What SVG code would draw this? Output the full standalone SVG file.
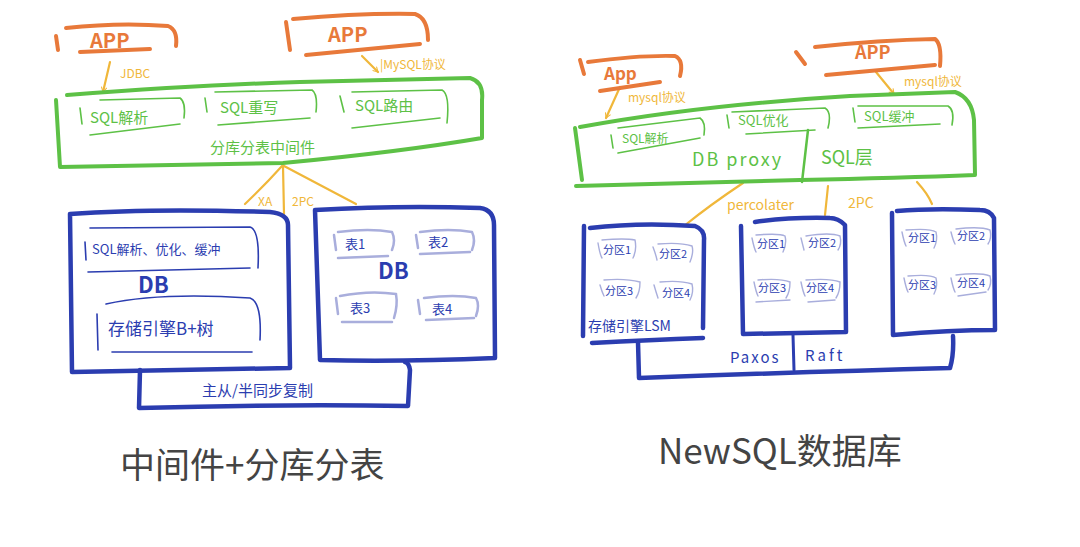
<svg xmlns="http://www.w3.org/2000/svg" width="1080" height="547" viewBox="0 0 1080 547">
<defs>
<style>
.or{fill:none;stroke:#E8793A;stroke-width:4;stroke-linecap:round;stroke-linejoin:round}
.gr{fill:none;stroke:#5DC146;stroke-width:4;stroke-linecap:round;stroke-linejoin:round}
.gr2{fill:none;stroke:#5DC146;stroke-width:1.6;stroke-linecap:round}
.bl{fill:none;stroke:#2B3DB0;stroke-width:4.5;stroke-linecap:round;stroke-linejoin:round}
.bl2{fill:none;stroke:#2B3DB0;stroke-width:1.6;stroke-linecap:round}
.pu{fill:none;stroke:#A9AEDC;stroke-width:2.5;stroke-linecap:round}
.pu2{fill:none;stroke:#A9AEDC;stroke-width:1.4;stroke-linecap:round}
.ye{fill:none;stroke:#F0B73A;stroke-width:2.2;stroke-linecap:round;stroke-linejoin:round}
text{font-family:"Noto Sans CJK SC","Liberation Sans",sans-serif}
.to{fill:#E8793A;font-size:20px;font-weight:bold}
.ty{fill:#F0B73A;font-size:12px}
.tg{fill:#5DC146;font-size:15px}
.tb{fill:#2B3DB0;font-size:15px}
.tbs{fill:#2B3DB0;font-size:11px}
.tdb{fill:#2B3DB0;font-size:22px;font-weight:bold}
.cap{fill:#444;font-size:35px}
</style>
<marker id="ah" viewBox="0 0 10 10" refX="8" refY="5" markerWidth="7" markerHeight="7" orient="auto" markerUnits="userSpaceOnUse">
<path d="M1,1 L8,5 L1,9" fill="none" stroke="#F0B73A" stroke-width="1.5"/>
</marker>
</defs>
<rect width="1080" height="547" fill="#fff"/>

<g id="connectors">
<path class="ye" d="M110,62 L103,92" marker-end="url(#ah)"/>
<path class="ye" d="M362,56 L378,72" marker-end="url(#ah)"/>
<path class="ye" d="M282,166 Q265,185 245,204"/>
<path class="ye" d="M283,166 L284,214"/>
<path class="ye" d="M284,166 Q320,185 356,204"/>
<path class="ye" d="M620,87 L606,118" marker-end="url(#ah)"/>
<path class="ye" d="M876,72 L894,94" marker-end="url(#ah)"/>
<path class="ye" d="M743,183 Q710,205 684,226"/>
<path class="ye" d="M828,186 L825,215"/>
<path class="ye" d="M917,182 Q928,194 932,204"/>
</g>

<g id="app-left1">
<path class="or" d="M56,36 L58,50"/>
<path class="or" d="M66,28 Q120,22 168,26 Q178,30 176,46"/>
<path class="or" d="M80,52 L150,49"/>
<text class="to" x="90" y="48">APP</text>
</g>
<g id="app-left2">
<path class="or" d="M286,22 L290,50"/>
<path class="or" d="M293,19 Q360,13 415,14 Q428,18 428,40"/>
<path class="or" d="M306,55 L420,44"/>
<text class="to" x="328" y="42">APP</text>
</g>
<text class="ty" x="120" y="78">JDBC</text>
<text class="ty" x="380" y="69">|MySQL协议</text>

<g id="middleware">
<path class="gr" d="M67,95 Q200,85 300,82 L470,78 Q484,82 482,100 L482,138 Q400,152 283,163 L60,167 L56,100"/>
<g id="sql-parse">
<path class="gr2" d="M80,108 L82,124"/>
<path class="gr2" d="M100,100 L180,98 Q186,102 184,118"/>
<path class="gr2" d="M90,135 L180,124"/>
<text class="tg" x="90" y="123">SQL解析</text>
</g>
<g id="sql-rewrite">
<path class="gr2" d="M205,98 L207,112"/>
<path class="gr2" d="M215,92 L312,90 Q318,94 316,112"/>
<path class="gr2" d="M218,125 L310,118"/>
<text class="tg" x="220" y="113">SQL重写</text>
</g>
<g id="sql-route">
<path class="gr2" d="M340,96 L344,112"/>
<path class="gr2" d="M352,92 L442,90 Q450,94 447,123"/>
<path class="gr2" d="M352,128 L440,118"/>
<text class="tg" x="355" y="111">SQL路由</text>
</g>
<text class="tg" x="210" y="153">分库分表中间件</text>
</g>
<text class="ty" x="258" y="206">XA</text>
<text class="ty" x="292" y="206">2PC</text>

<g id="db-left">
<path class="bl" d="M70,214 Q150,208 270,212 Q288,214 288,225 L290,368 Q180,370 72,372 L70,214"/>
<path class="bl2" d="M85,242 L86,260"/>
<path class="bl2" d="M90,228 L250,227 Q260,230 258,268"/>
<path class="bl2" d="M88,272 L250,268"/>
<text class="tb" x="92" y="254" style="font-size:13px">SQL解析、优化、缓冲</text>
<text class="tdb" x="138" y="293">DB</text>
<path class="bl2" d="M97,314 L98,350"/>
<path class="bl2" d="M106,304 Q160,292 250,298 Q262,302 260,340"/>
<path class="bl2" d="M112,352 L252,352"/>
<text class="tb" x="108" y="335" style="font-size:17px">存储引擎B+树</text>
</g>

<g id="db-right">
<path class="bl" d="M315,210 Q400,205 480,208 Q494,210 494,225 L495,358 Q400,362 320,360 L315,210"/>
<g id="t1"><path class="pu" d="M334,235 L336,250 M338,232 Q370,228 392,232 Q396,240 392,250 M338,258 L388,256"/><text class="tb" x="345" y="249" style="font-size:13px">表1</text></g>
<g id="t2"><path class="pu" d="M416,235 L418,248 M420,232 Q450,228 472,232 Q476,240 472,250 M420,254 L470,252"/><text class="tb" x="428" y="247" style="font-size:13px">表2</text></g>
<g id="t3"><path class="pu" d="M336,298 L338,314 M340,296 Q370,290 396,294 Q398,305 394,318 M342,322 L392,322"/><text class="tb" x="350" y="313" style="font-size:13px">表3</text></g>
<g id="t4"><path class="pu" d="M418,300 L420,314 M424,298 Q455,294 476,298 Q480,305 476,316 M426,320 L474,318"/><text class="tb" x="432" y="314" style="font-size:13px">表4</text></g>
<text class="tdb" x="378" y="279">DB</text>
</g>

<g id="replication">
<path class="bl" d="M140,370 L139,408 Q280,404 408,406 L410,370 Q409,363 405,362"/>
<text class="tb" x="202" y="396">主从/半同步复制</text>
</g>

<text class="cap" x="120" y="478">中间件+分库分表</text>

<g id="app-right1">
<path class="or" d="M580,60 L584,74"/>
<path class="or" d="M588,62 Q640,55 675,56 Q684,60 680,76"/>
<path class="or" d="M600,91 L660,82"/>
<text class="to" x="604" y="80" style="font-size:17px">App</text>
</g>
<g id="app-right2">
<path class="or" d="M796,52 L805,64"/>
<path class="or" d="M815,47 Q880,40 935,39 Q942,44 940,66"/>
<path class="or" d="M826,75 L935,65"/>
<text class="to" x="855" y="59" style="font-size:18px">APP</text>
</g>
<text class="ty" x="628" y="102">mysql协议</text>
<text class="ty" x="904" y="86">mysql协议</text>

<g id="db-proxy">
<path class="gr" d="M580,127 Q700,105 850,96 L955,92 Q972,98 974,120 L975,175 Q900,178 800,180 L576,186"/>
<path class="gr" d="M575,128 L582,180"/>
<g id="p-parse"><path class="gr2" d="M611,135 L613,148 M618,128 L700,118 Q706,122 704,135 M618,153 L700,138"/><text class="tg" x="622" y="143" style="font-size:12px">SQL解析</text></g>
<g id="p-opt"><path class="gr2" d="M727,115 L729,128 M732,112 L825,108 Q832,112 828,128 M746,134 L815,130"/><text class="tg" x="738" y="125" style="font-size:13px">SQL优化</text></g>
<g id="p-cache"><path class="gr2" d="M853,108 L855,122 M858,106 L948,106 Q955,110 952,125 M858,128 L940,124"/><text class="tg" x="864" y="121" style="font-size:13px">SQL缓冲</text></g>
<path class="gr2" d="M808,130 L802,182" style="stroke-width:2.5"/>
<text class="tg" x="692" y="166" style="font-size:18px;letter-spacing:2px">DB proxy</text>
<text class="tg" x="821" y="164" style="font-size:18px">SQL层</text>
</g>
<text class="ty" x="727" y="210" style="font-size:14px">percolater</text>
<text class="ty" x="848" y="208" style="font-size:14px">2PC</text>

<g id="store1">
<path class="bl" d="M584,226 L583,336 M590,228 Q640,222 695,226 Q705,230 704,240 L703,328 M592,343 Q650,340 703,338"/>
<g class="pu2"><path d="M598,243 Q600,255 602,258 M602,240 Q625,238 635,240 Q637,250 633,258"/><path d="M653,247 Q656,255 657,260 M658,244 Q680,242 692,246 Q694,252 690,262"/><path d="M600,285 Q602,292 604,296 M604,280 Q625,278 640,282 Q640,292 636,298"/><path d="M654,285 Q656,292 658,298 M660,282 Q680,280 692,284 Q694,292 690,300"/></g>
<text class="tbs" x="603" y="254">分区1</text>
<text class="tbs" x="659" y="258">分区2</text>
<text class="tbs" x="605" y="295">分区3</text>
<text class="tbs" x="662" y="297">分区4</text>
<text class="tb" x="588" y="331" style="font-size:14px">存储引擎LSM</text>
</g>
<g id="store2">
<path class="bl" d="M741,226 L743,334 Q800,333 846,332 L845,225 Q838,218 830,218 Q790,217 755,222"/>
<g class="pu2"><path d="M752,238 Q754,248 756,252 M756,235 Q780,233 785,236 Q787,244 783,252"/><path d="M801,238 Q803,246 804,250 M806,236 Q830,232 840,236 Q842,244 838,250"/><path d="M754,282 Q756,292 758,296 M758,280 Q780,278 790,282 Q790,292 786,298 M756,302 L790,300"/><path d="M801,282 Q803,292 805,296 M806,280 Q830,278 840,282 Q840,292 836,298 M808,302 L835,300"/></g>
<text class="tbs" x="757" y="248">分区1</text>
<text class="tbs" x="808" y="247">分区2</text>
<text class="tbs" x="758" y="292">分区3</text>
<text class="tbs" x="806" y="292">分区4</text>
</g>
<g id="store3">
<path class="bl" d="M892,213 L893,335 Q950,330 995,330 L994,218 Q990,210 980,210 Q930,208 897,211"/>
<g class="pu2"><path d="M902,232 Q904,242 906,246 M906,230 Q930,228 936,232 Q938,240 934,248"/><path d="M951,232 Q953,240 955,244 M956,229 Q980,226 990,230 Q992,238 988,244"/><path d="M904,278 Q906,288 908,292 M908,276 Q930,274 936,278 Q938,286 934,294"/><path d="M951,278 Q953,288 955,292 M956,275 Q980,272 990,276 Q992,284 988,290 M958,296 L986,292"/></g>
<text class="tbs" x="908" y="242">分区1</text>
<text class="tbs" x="957" y="240">分区2</text>
<text class="tbs" x="908" y="289">分区3</text>
<text class="tbs" x="957" y="287">分区4</text>
</g>

<g id="consensus">
<path class="bl" d="M638,342 L639,378 Q800,372 950,368 Q954,355 953,336"/>
<path class="bl" d="M793,335 L794,370" style="stroke-width:3"/>
<text class="tb" x="730" y="363" style="letter-spacing:2px">Paxos</text>
<text class="tb" x="805" y="361" style="letter-spacing:3px">Raft</text>
</g>

<text class="cap" x="658" y="464">NewSQL数据库</text>
</svg>
